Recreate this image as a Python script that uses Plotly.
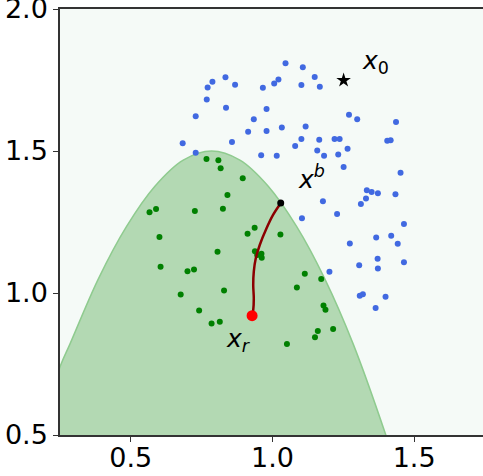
import plotly.graph_objects as go

# Boundary of the feasible (green) region
bound_x = [0.105, 0.25, 0.285, 0.385, 0.485, 0.585, 0.685, 0.785, 0.885, 0.985, 1.085, 1.185, 1.285, 1.40, 1.465]
bound_y = [0.298, 0.74, 0.82, 1.049, 1.2345, 1.376, 1.468, 1.50, 1.468, 1.376, 1.2345, 1.049, 0.82, 0.50, 0.298]

# Blue samples (outside region)
blue_x = [1.046, 1.107, 1.149, 1.167, 1.102, 1.021, 1.006, 0.966, 0.834, 0.788, 0.771, 0.868, 0.768,
          0.836, 0.979, 0.729, 0.934, 0.914, 0.979, 1.033, 1.117, 1.102, 1.165, 1.080, 1.158, 1.182,
          0.683, 0.857, 0.729, 0.960, 1.015, 1.270, 1.299, 1.436, 1.219, 1.237, 1.405, 1.417, 1.232,
          1.265, 1.251, 1.452, 1.333, 1.350, 1.372, 1.434, 1.330, 1.312, 1.178, 1.228, 1.104, 1.464,
          1.366, 1.419, 1.442, 1.273, 1.371, 1.372, 1.464, 1.306, 1.201, 1.308, 1.319, 1.399, 1.364]
blue_y = [1.809, 1.795, 1.761, 1.726, 1.732, 1.752, 1.738, 1.723, 1.760, 1.744, 1.724, 1.733, 1.681,
          1.652, 1.648, 1.622, 1.612, 1.568, 1.570, 1.583, 1.586, 1.542, 1.540, 1.518, 1.502, 1.483,
          1.527, 1.532, 1.494, 1.485, 1.483, 1.628, 1.612, 1.602, 1.542, 1.542, 1.536, 1.538, 1.488,
          1.508, 1.444, 1.423, 1.362, 1.356, 1.351, 1.348, 1.333, 1.313, 1.323, 1.278, 1.263, 1.243,
          1.195, 1.202, 1.173, 1.174, 1.121, 1.086, 1.108, 1.098, 1.075, 0.990, 0.996, 0.987, 0.947]

# Green samples (inside region)
green_x = [0.767, 0.809, 0.817, 0.895, 0.841, 0.825, 0.726, 0.589, 0.566, 0.601, 0.937, 0.912, 1.028,
           0.806, 0.938, 0.946, 0.961, 0.962, 0.605, 0.700, 0.723, 0.676, 0.829, 0.741, 0.785, 0.814,
           1.114, 1.172, 1.086, 1.180, 1.187, 1.160, 1.150, 1.214, 1.051]
green_y = [1.472, 1.467, 1.439, 1.404, 1.345, 1.297, 1.289, 1.296, 1.284, 1.197, 1.230, 1.209, 1.206,
           1.145, 1.147, 1.134, 1.138, 1.124, 1.092, 1.077, 1.083, 0.995, 1.009, 0.938, 0.893, 0.899,
           1.068, 1.049, 1.019, 0.956, 0.941, 0.866, 0.844, 0.873, 0.820]

# Trajectory from x^b to x_r
traj_x = [1.029, 1.002, 0.979, 0.955, 0.941, 0.934, 0.932, 0.934, 0.932, 0.928]
traj_y = [1.316, 1.275, 1.228, 1.169, 1.122, 1.075, 1.028, 0.981, 0.940, 0.920]

x0 = [1.251]
y0 = [1.749]
xb = [1.029]
yb = [1.317]
xr = [0.928]
yr = [0.920]

tick_vals_x = [0.5, 1.0, 1.5]
tick_text_x = ["0.5", "1.0", "1.5"]
tick_vals_y = [0.5, 1.0, 1.5, 2.0]
tick_text_y = ["0.5", "1.0", "1.5", "2.0"]

fig = go.Figure()
fig.add_trace(go.Scatter(x=bound_x, y=bound_y, mode="lines", line=dict(color="#8fcb8f", width=1.5, shape="spline"),
                         fill="tozeroy", fillcolor="#b3d9b3", hoverinfo="skip"))
fig.add_trace(go.Scatter(x=blue_x, y=blue_y, mode="markers", marker=dict(color="#4169e1", size=6)))
fig.add_trace(go.Scatter(x=green_x, y=green_y, mode="markers", marker=dict(color="#008000", size=6)))
fig.add_trace(go.Scatter(x=traj_x, y=traj_y, mode="lines", line=dict(color="#8b0000", width=2.5, shape="spline")))
fig.add_trace(go.Scatter(x=xr, y=yr, mode="markers", marker=dict(color="#ff0000", size=11)))
fig.add_trace(go.Scatter(x=xb, y=yb, mode="markers", marker=dict(color="#000000", size=7)))
fig.add_trace(go.Scatter(x=x0, y=y0, mode="markers", marker=dict(color="#000000", size=11, symbol="star")))

lab_font = dict(family="DejaVu Sans", size=25, color="black")
fig.add_annotation(x=1.365, y=1.813, text="<i>x</i><sub>0</sub>", showarrow=False, font=lab_font)
fig.add_annotation(x=1.139, y=1.405, text="<i>x</i><sup><i>b</i></sup>", showarrow=False, font=lab_font)
fig.add_annotation(x=0.881, y=0.835, text="<i>x</i><sub><i>r</i></sub>", showarrow=False, font=lab_font)

fig.update_layout(
    width=483, height=476,
    margin=dict(l=60, r=0, t=9, b=41, autoexpand=False),
    plot_bgcolor="#f5faf7", paper_bgcolor="white",
    showlegend=False,
    font=dict(family="DejaVu Sans", size=27, color="black"),
)
fig.update_xaxes(range=[0.25, 1.743], showgrid=False, zeroline=False, showline=True, linecolor="#333333",
                 linewidth=1.5, mirror=True, ticks="outside", ticklen=5, tickcolor="#333333",
                 tickvals=tick_vals_x, ticktext=tick_text_x, tickfont=dict(size=27), automargin=False,
                 ticklabeloverflow="allow", ticklabelstandoff=-7)
fig.update_yaxes(range=[0.5, 2.0], showgrid=False, zeroline=False, showline=True, linecolor="#333333",
                 linewidth=1.5, ticks="outside", ticklen=5, tickcolor="#333333",
                 tickvals=tick_vals_y, ticktext=tick_text_y, tickfont=dict(size=27), automargin=False,
                 ticklabeloverflow="allow")

fig.write_html("out.html", config={"displayModeBar": False},
               post_script="document.body.style.margin='0px';document.body.style.overflow='hidden';")
